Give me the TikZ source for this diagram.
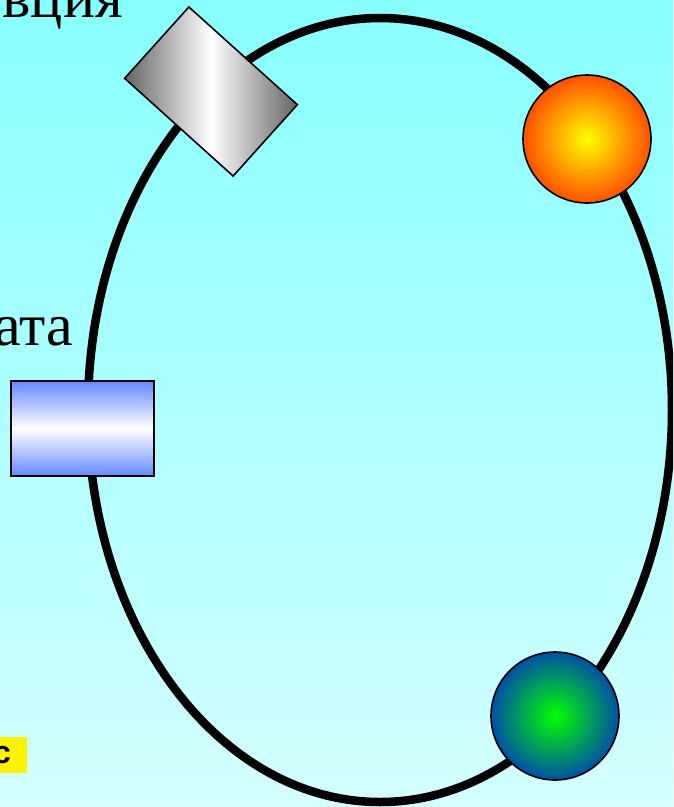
\documentclass[tikz,border=0pt]{standalone}
\usepackage{fontspec}
\setmainfont{Liberation Serif}
\newfontfamily\labelsans{Liberation Sans}
\usetikzlibrary{shadings}
\definecolor{bgtop}{RGB}{136,255,255}
\definecolor{bgbottom}{RGB}{212,255,255}
\definecolor{graydark}{RGB}{100,100,100}
\definecolor{bluebar}{RGB}{100,136,255}
\definecolor{ballred}{RGB}{255,80,0}
\definecolor{ballyellow}{RGB}{255,255,0}
\definecolor{ballgreen}{RGB}{0,255,0}
\definecolor{ballblue}{RGB}{0,80,165}
\pgfdeclareradialshading{orangeball}{\pgfpoint{0bp}{0bp}}{color(0bp)=(ballyellow); color(25bp)=(ballred); color(50bp)=(ballred)}
\pgfdeclareradialshading{greenball}{\pgfpoint{0bp}{0bp}}{color(0bp)=(ballgreen); color(25bp)=(ballblue); color(50bp)=(ballblue)}
\tikzset{
  bigtext/.style={font=\fontsize{60}{70}\selectfont, inner sep=0pt},
  ballnode/.style={circle, draw=black, line width=1.6pt, minimum size=128pt, inner sep=0pt},
  barnode/.style={rectangle, draw=black, line width=1.6pt, inner sep=0pt},
}
\begin{document}
\begin{tikzpicture}[x=1pt, y=-1pt]
\useasboundingbox (0,0) rectangle (673,807);
\clip (0,0) rectangle (673,807);
\shade[top color=bgtop, bottom color=bgbottom] (0,0) rectangle (673,807);
% orbit
\draw[line width=8.5pt] (380,410) ellipse [x radius=292, y radius=392];
% texts
\node[bigtext, anchor=base east] (t1) at (123,17) {вция};
\node[bigtext, anchor=base east] (t2) at (73,345) {ата};
\fill[yellow] (0,737) rectangle (27,773);
\node[font=\labelsans\bfseries\fontsize{32}{36}\selectfont, inner sep=0pt, anchor=base east] (t3) at (11,763) {с};
% gray block
\node[barnode, minimum width=146pt, minimum height=96pt, rotate=-42,
      left color=graydark, right color=graydark, middle color=white] (gray) at (211,91.5) {};
% blue block
\node[barnode, minimum width=143pt, minimum height=95pt,
      top color=bluebar, bottom color=bluebar, middle color=white] (blue) at (82.5,428.5) {};
% balls
\node[ballnode, shading=orangeball] (orange) at (587,139) {};
\node[ballnode, shading=greenball] (green) at (555,716) {};
\end{tikzpicture}
\end{document}
